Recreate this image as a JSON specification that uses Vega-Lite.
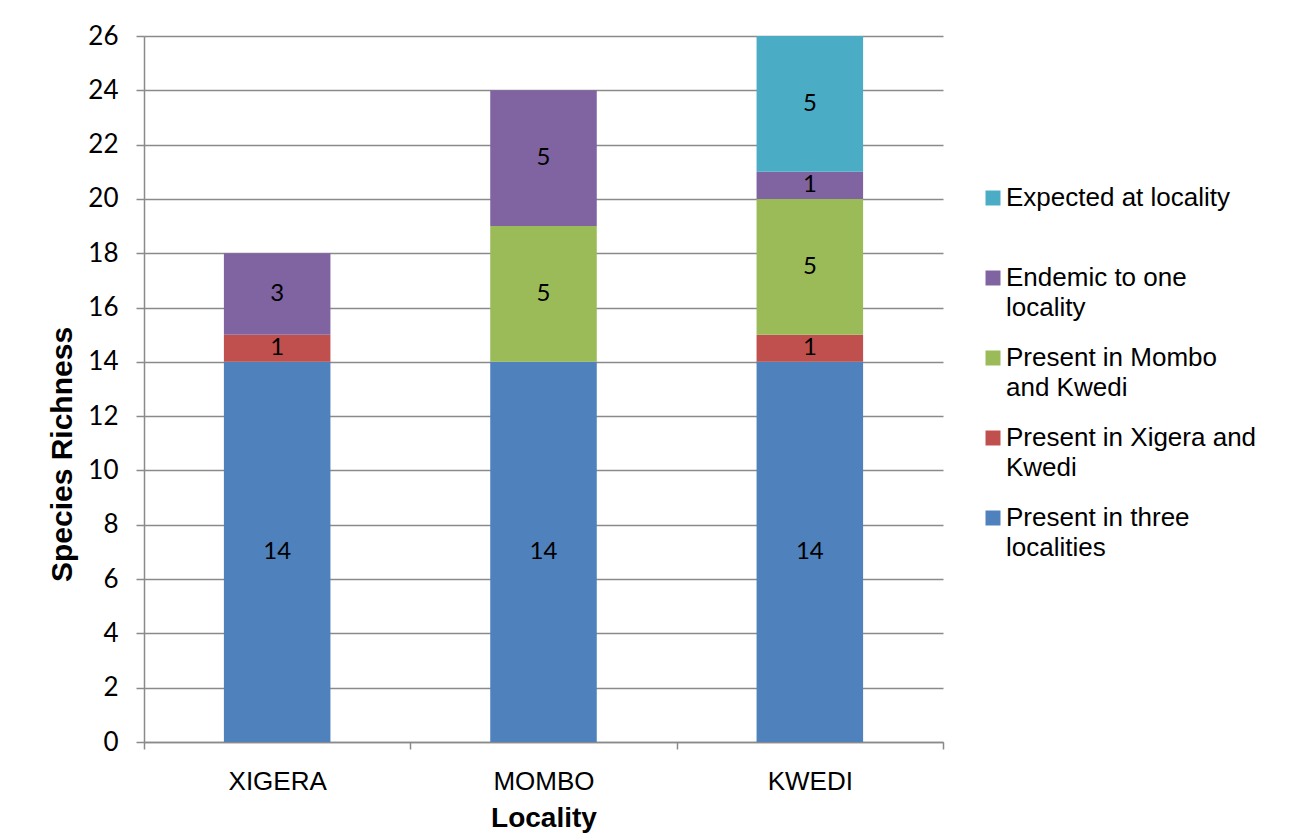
{
  "$schema": "https://vega.github.io/schema/vega-lite/v6.json",
  "autosize": {"type": "none"},
  "width": 799,
  "height": 706,
  "padding": {"left": 144, "top": 36, "right": 348, "bottom": 93},
  "background": "white",
  "config": {
    "view": {"stroke": null},
    "font": "Liberation Sans"
  },
  "data": {
    "values": [
      {"locality": "XIGERA", "group": "Present in three localities", "rank": 1, "count": 14},
      {"locality": "XIGERA", "group": "Present in Xigera and Kwedi", "rank": 2, "count": 1},
      {"locality": "XIGERA", "group": "Endemic to one locality", "rank": 4, "count": 3},
      {"locality": "MOMBO", "group": "Present in three localities", "rank": 1, "count": 14},
      {"locality": "MOMBO", "group": "Present in Mombo and Kwedi", "rank": 3, "count": 5},
      {"locality": "MOMBO", "group": "Endemic to one locality", "rank": 4, "count": 5},
      {"locality": "KWEDI", "group": "Present in three localities", "rank": 1, "count": 14},
      {"locality": "KWEDI", "group": "Present in Xigera and Kwedi", "rank": 2, "count": 1},
      {"locality": "KWEDI", "group": "Present in Mombo and Kwedi", "rank": 3, "count": 5},
      {"locality": "KWEDI", "group": "Endemic to one locality", "rank": 4, "count": 1},
      {"locality": "KWEDI", "group": "Expected at locality", "rank": 5, "count": 5}
    ]
  },
  "encoding": {
    "x": {
      "field": "locality",
      "type": "nominal",
      "sort": ["XIGERA", "MOMBO", "KWEDI"],
      "scale": {"paddingInner": 0, "paddingOuter": 0},
      "axis": {
        "title": "Locality",
        "titleFont": "Liberation Sans",
        "titleFontSize": 28,
        "titleFontWeight": "bold",
        "titleColor": "black",
        "titlePadding": 10,
        "labelAngle": 0,
        "labelFont": "Liberation Sans",
        "labelFontSize": 26,
        "labelColor": "black",
        "labelPadding": 19,
        "tickBand": "extent",
        "tickSize": 7,
        "tickWidth": 1.5,
        "tickColor": "#8a8a8a",
        "domainColor": "#8a8a8a",
        "domainWidth": 1.5,
        "grid": false
      }
    },
    "y": {
      "field": "count",
      "type": "quantitative",
      "stack": "zero",
      "scale": {"domain": [0, 26], "nice": false},
      "axis": {
        "title": "Species Richness",
        "titleFont": "Liberation Sans",
        "titleFontSize": 30,
        "titleFontWeight": "bold",
        "titleColor": "black",
        "titlePadding": 10,
        "titleY": 418,
        "values": [0, 2, 4, 6, 8, 10, 12, 14, 16, 18, 20, 22, 24, 26],
        "labelFont": "Lato",
        "labelFontSize": 26,
        "labelColor": "black",
        "labelPadding": 18,
        "tickSize": 8,
        "tickWidth": 1.5,
        "tickColor": "#8a8a8a",
        "domainColor": "#8a8a8a",
        "domainWidth": 1.5,
        "grid": true,
        "gridColor": "#8a8a8a",
        "gridWidth": 1.5
      }
    },
    "order": {"field": "rank", "type": "quantitative", "sort": "ascending"}
  },
  "layer": [
    {
      "mark": {"type": "bar", "width": {"band": 0.4}},
      "encoding": {
        "color": {
          "field": "group",
          "type": "nominal",
          "sort": ["Expected at locality", "Endemic to one locality", "Present in Mombo and Kwedi", "Present in Xigera and Kwedi", "Present in three localities"],
          "scale": {
            "domain": ["Expected at locality", "Endemic to one locality", "Present in Mombo and Kwedi", "Present in Xigera and Kwedi", "Present in three localities"],
            "range": ["#4BACC6", "#8064A2", "#9BBB59", "#C0504D", "#4F81BD"]
          },
          "legend": {
            "title": null,
            "orient": "none",
            "legendX": 836,
            "legendY": 149,
            "padding": 0,
            "symbolType": "square",
            "symbolSize": 225,
            "symbolStrokeWidth": 0,
            "symbolOpacity": 1,
            "labelFont": "Liberation Sans",
            "labelFontSize": 26,
            "labelColor": "black",
            "labelOffset": 0,
            "labelLimit": 400,
            "rowPadding": 24,
            "labelExpr": "datum.label == 'Expected at locality' ? ['Expected at locality', ''] : datum.label == 'Endemic to one locality' ? ['Endemic to one', 'locality'] : datum.label == 'Present in Mombo and Kwedi' ? ['Present in Mombo', 'and Kwedi'] : datum.label == 'Present in Xigera and Kwedi' ? ['Present in Xigera and', 'Kwedi'] : ['Present in three', 'localities']",
            "encode": {"labels": {"update": {"lineHeight": {"value": 30}}}}
          }
        }
      }
    },
    {
      "mark": {"type": "text", "font": "Lato", "fontSize": 24, "color": "black"},
      "encoding": {
        "y": {"field": "count", "type": "quantitative", "stack": "zero", "bandPosition": 0.5},
        "detail": {"field": "group", "type": "nominal"},
        "text": {"field": "count", "type": "quantitative"}
      }
    }
  ]
}
